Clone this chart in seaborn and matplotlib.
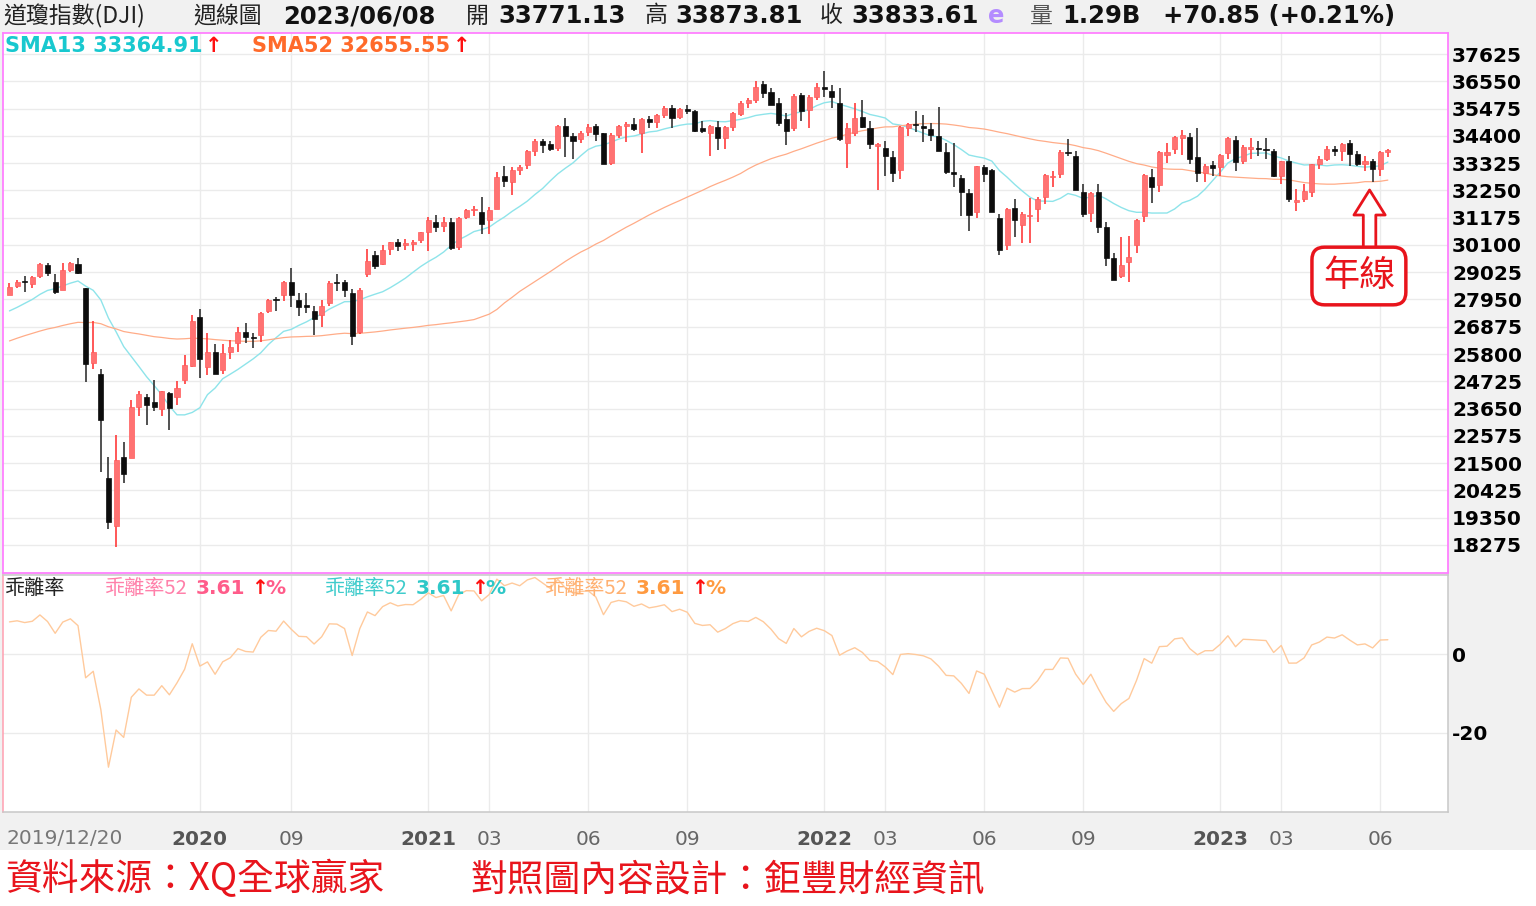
import numpy as np
import pandas as pd
import matplotlib
matplotlib.use("Agg")
import matplotlib.pyplot as plt
import seaborn as sns
from matplotlib.patches import Rectangle

sns.set_style("white")
plt.rcParams["font.family"] = ["DejaVu Sans", "Noto Sans CJK TC"]
CJK = ["Noto Sans CJK TC", "DejaVu Sans"]

# ---------------- data ----------------
# weekly closes before the first visible week (for the moving averages)
prior_closes = [23062, 23433, 23996, 24706, 24737, 25064, 25106, 25883, 26031, 26026,
                25450, 25849, 25502, 25929, 26425, 26412, 26560, 26543, 26505, 25942,
                25764, 25586, 24815, 25984, 26090, 26719, 26600, 26922, 27332, 27154,
                27192, 26485, 26287, 25886, 25629, 26403, 26797, 27220, 26935, 26820,
                26573, 26817, 26770, 26958, 27347, 27681, 28005, 27876, 28051, 28015,
                28135]

# weekly candles 2019/12/20 .. 2023/06/08
opens = [28135, 28491, 28654, 28580, 28878, 29293, 28650, 28319, 29094, 29368,
         28402, 25457, 25014, 20915, 19028, 21727, 21693, 23700, 24110, 23900,
         23645, 24250, 24100, 24780, 25342, 27260, 25300, 25880, 25170, 25880,
         26230, 26680, 26450, 26550, 27490, 27950, 28120, 28640, 27930, 27750,
         27500, 27330, 27810, 28650, 28640, 28200, 26680, 28950, 29700, 29360,
         29940, 30200, 30100, 30130, 30290,
         30610, 31000, 30830, 31000, 30020, 31200, 31460, 31400, 31100, 31530,
         32820, 32600, 33070, 33250, 33800, 34200, 34080, 33920, 34780, 34390,
         34270, 34550, 34780, 34500, 33320, 34430, 34780, 34880, 34500, 35060,
         34940, 35220, 35510, 35160, 35460, 35370, 34700, 34500, 34750, 34300,
         34750, 35250, 35700, 35830, 36440, 36130, 35690, 35060, 34690, 36010,
         35420, 35950,
         36330, 36180, 35690, 34100, 34500, 35140, 34710, 33990, 33920, 33560,
         33050, 34700, 34860, 34800, 34660, 34390, 33770, 32980, 32740, 32150,
         31400, 33170, 33050, 31160, 30100, 31560, 30890, 31250, 31510, 31990,
         32780, 32900, 33750, 33600, 32190, 31360, 32190, 30810, 29580, 28880,
         29430, 30100, 31240, 32780, 32460, 33640, 33880, 34310, 34350, 33570,
         32930, 33250,
         33170, 33720, 34240, 33390, 33900, 33900, 33880, 33800, 32800, 33400,
         31800, 31900, 32200, 33300, 33500, 33900, 33800, 34100, 33700, 33300,
         33400, 33100, 33771]
highs = [28608, 28701, 28872, 28873, 29374, 29373, 28960, 29408, 29416, 29568,
         28402, 27102, 25200, 21740, 22595, 22327, 24008, 24330, 24242, 24764,
         24330, 24300, 24750, 25759, 27338, 27580, 26611, 26200, 26204, 26367,
         26875, 27042, 26630, 27467, 27952, 28049, 28696, 29199, 28212, 28200,
         27700, 27930, 28680, 28958, 28700, 28350, 28403, 29933, 29850, 30116,
         30218, 30320, 30326, 30310, 30627,
         31193, 31272, 31188, 31160, 31200, 31500, 31640, 32009, 31600, 32960,
         33227, 33170, 33260, 33830, 34256, 34256, 34200, 34811, 35091, 34500,
         34600, 34849, 34849, 34520, 34500, 34840, 34945, 35091, 35100, 35171,
         35248, 35580, 35631, 35510, 35600, 35400, 35000, 34840, 35000, 34800,
         35350, 35765, 35892, 36565, 36572, 36300, 35900, 35300, 36050, 36100,
         36000, 36474,
         36952, 36400, 36300, 34900, 35700, 35810, 35000, 34100, 34200, 33800,
         34800, 34900, 35372, 35220, 34900, 35540, 34100, 34118, 32850, 32300,
         33213, 33250, 33100, 31300, 31560, 31910, 31400, 31950, 32000, 32900,
         33000, 33840, 34281, 33800, 32500, 32200, 32500, 31000, 29800, 30400,
         30450, 31120, 32900, 33090, 33800, 34130, 34400, 34630, 34500, 34712,
         33300, 33400,
         33700, 34342, 34400, 34020, 34334, 34200, 34300, 33900, 33400, 33600,
         32300, 32500, 33300, 33600, 34000, 34000, 34100, 34250, 33800, 33600,
         33500, 33800, 33874]
lows = [28111, 28420, 28262, 28419, 28780, 28859, 28169, 28319, 29050, 28950,
        24681, 25226, 21154, 18917, 18213, 20735, 21693, 23350, 23018, 23574,
        23361, 22790, 23780, 24600, 25300, 24843, 24965, 25000, 25000, 25590,
        25890, 26230, 26040, 26285, 27431, 27512, 27900, 27664, 27300, 27400,
        26537, 26850, 27700, 28300, 28046, 26143, 26600, 28850, 29150, 29300,
        29723, 29850, 29900, 29880, 30166,
        29881, 30613, 30600, 29900, 29900, 31120, 31260, 30548, 30547, 31500,
        32400, 32070, 32870, 33100, 33600, 33720, 33800, 33800, 33560, 33490,
        34100, 34400, 34200, 33271, 33250, 34300, 34150, 34600, 33741, 34700,
        34700, 35100, 34690, 35050, 35250, 34560, 34500, 33613, 33840, 33900,
        34600, 35200, 35500, 35700, 35900, 35600, 34800, 34040, 34600, 35000,
        34700, 35800,
        35950, 35500, 34200, 33150, 34400, 34700, 33900, 32272, 32800, 32600,
        32700, 34400, 34560, 34170, 34200, 33800, 32900, 32400, 31240, 30650,
        31153, 32600, 31390, 29700, 29900, 30410, 30170, 30170, 31000, 31700,
        32400, 32740, 33600, 32283, 31200, 31000, 30570, 29270, 28700, 28800,
        28640, 29800, 31000, 31750, 32200, 33330, 33700, 33640, 33300, 32573,
        32580, 32800,
        32812, 33500, 33000, 33300, 33500, 33600, 33500, 32790, 32500, 31800,
        31430, 31800, 32000, 33100, 33400, 33600, 33400, 33200, 33200, 33000,
        32600, 32800, 33560]
closes = [28455, 28645, 28634, 28823, 29348, 28990, 28256, 29102, 29398, 28992,
          25409, 25864, 23186, 19174, 21637, 21053, 23720, 24242, 23775, 23724,
          24331, 23685, 24465, 25383, 27111, 25606, 25871, 25016, 25827, 26075,
          26672, 26470, 26428, 27433, 27931, 27930, 28654, 28133, 27666, 27657,
          27174, 27683, 28587, 28606, 28336, 26502, 28323, 29480, 29263, 29910,
          30218, 30046, 30179, 30200, 30606,
          31098, 30814, 30997, 29983, 31148, 31458, 31494, 30932, 31496, 32779,
          32628, 33073, 33153, 33801, 34200, 34043, 33875, 34778, 34382, 34208,
          34529, 34756, 34480, 33290, 34433, 34786, 34870, 34688, 35062, 34935,
          35209, 35515, 35120, 35456, 35369, 34608, 34584, 34798, 34326, 34746,
          35295, 35677, 35820, 36328, 36100, 35602, 34899, 34580, 35971, 35365,
          35950, 36338,
          36231, 35912, 34265, 34725, 35089, 34738, 34079, 34059, 33615, 32944,
          34755, 34861, 34818, 34721, 34451, 33811, 32977, 32899, 32197, 31262,
          33213, 32900, 31393, 29888, 31501, 31097, 31338, 31289, 31900, 32845,
          32803, 33761, 33707, 32283, 31318, 32152, 30822, 29590, 28726, 29297,
          29635, 31083, 32862, 32403, 33748, 33746, 34347, 34430, 33476, 32920,
          33204, 33147,
          33631, 34303, 33375, 33978, 33926, 33869, 33827, 32817, 33391, 31910,
          31862, 32238, 33274, 33485, 33886, 33809, 34098, 33674, 33301, 33427,
          33093, 33763, 33834]

tick_pos = [25, 37, 55, 63, 76, 89, 107, 115, 128, 141, 159, 167, 180]
tick_labels = ["2020", "09", "2021", "03", "06", "09", "2022", "03", "06", "09", "2023", "03", "06"]
price_ticks = [18275, 19350, 20425, 21500, 22575, 23650, 24725, 25800, 26875, 27950,
               29025, 30100, 31175, 32250, 33325, 34400, 35475, 36550, 37625]
dev_ticks = [0, -20]

header_items = [(3, "道瓊指數(DJI)", "cjk", "#222222"), (193, "週線圖", "cjk", "#222222"),
                (283, "2023/06/08", "num", "#111111"), (466, "開", "cjk", "#222222"),
                (498, "33771.13", "num", "#111111"), (645, "高", "cjk", "#222222"),
                (675, "33873.81", "num", "#111111"), (820, "收", "cjk", "#222222"),
                (851, "33833.61", "num", "#111111"), (988, "e", "num", "#b48cff"),
                (1030, "量", "cjk", "#555555"), (1062, "1.29B", "num", "#111111"),
                (1163, "+70.85 (+0.21%)", "num", "#111111")]

# ---------------- figure ----------------
W, H = 1536, 906
def fx(x): return x / W
def fy(y): return 1 - y / H

fig = plt.figure(figsize=(W / 100, H / 100), dpi=100)
fig.patch.set_facecolor("#f1f1f1")
fig.add_artist(Rectangle((0, 0), 1, fy(850), transform=fig.transFigure,
                         facecolor="white", edgecolor="none", zorder=0))

ax1 = fig.add_axes([fx(3), fy(573), fx(1448) - fx(3), fy(33) - fy(573)])
ax2 = fig.add_axes([fx(3), fy(812), fx(1448) - fx(3), fy(575) - fy(812)])

o = np.array(opens, float); h = np.array(highs, float)
l = np.array(lows, float); c = np.array(closes, float)
n = len(c)
x = np.arange(n)
up = c >= o

allc = pd.Series(list(prior_closes) + list(closes), dtype=float)
sma13 = allc.rolling(13).mean().iloc[len(prior_closes):].to_numpy()
sma52 = allc.rolling(52).mean().iloc[len(prior_closes):].to_numpy()
dev = (c - sma52) / sma52 * 100

# moving averages (behind candles)
sns.lineplot(x=x, y=sma13, ax=ax1, color="#8ee4ea", lw=1.0, zorder=1)
sns.lineplot(x=x, y=sma52, ax=ax1, color="#ffac88", lw=0.9, zorder=1)

# candles
ax1.vlines(x[up], l[up], h[up], color="#ff3b3b", lw=1.2, zorder=2)
ax1.vlines(x[~up], l[~up], h[~up], color="#333333", lw=1.2, zorder=2)
bot = np.minimum(o, c)
hgt = np.maximum(np.abs(c - o), 45)
ax1.bar(x[up], hgt[up], bottom=bot[up], width=0.66, color="#ff7272",
        edgecolor="#ff5a5a", linewidth=0.5, zorder=3)
ax1.bar(x[~up], hgt[~up], bottom=bot[~up], width=0.66, color="#0d0d0d",
        edgecolor="#0d0d0d", linewidth=0.5, zorder=3)

ax1.set_xlim(-0.85, 188.9)
ax1.set_ylim(17171, 38453)
ax1.yaxis.tick_right()
ax1.set_yticks(price_ticks)
ax1.set_yticklabels([str(v) for v in price_ticks], fontsize=14.5, fontweight="bold", color="black")
ax1.tick_params(axis="y", length=0, pad=3)
ax1.set_xticks(tick_pos)
ax1.tick_params(axis="x", length=0, labelbottom=False)
ax1.grid(True, color="#ebebeb", lw=1)
ax1.set_axisbelow(True)
ax1.set_facecolor("white")
for s in ax1.spines.values():
    s.set_color("#ff80ff"); s.set_linewidth(1.3)
ax1.set_xlabel(""); ax1.set_ylabel("")

# deviation panel
sns.lineplot(x=x, y=dev, ax=ax2, color="#ffca9c", lw=1.0)
ax2.set_xlim(-0.85, 188.9)
ax2.set_ylim(-40, 20)
ax2.yaxis.tick_right()
ax2.set_yticks(dev_ticks)
ax2.set_yticklabels([str(v) for v in dev_ticks], fontsize=14.5, fontweight="bold", color="black")
ax2.tick_params(axis="y", length=0, pad=3)
ax2.set_xticks(tick_pos)
ax2.set_xticklabels(tick_labels, fontsize=14.5, color="#666666")
for lab in ax2.get_xticklabels():
    if len(lab.get_text()) == 4:
        lab.set_fontweight("bold"); lab.set_color("#555555")
ax2.tick_params(axis="x", length=7, color="#b0b0b0", pad=6, direction="out")
ax2.grid(True, color="#ebebeb", lw=1)
ax2.set_axisbelow(True)
ax2.set_facecolor("white")
for s in ax2.spines.values():
    s.set_color("#c8c8c8"); s.set_linewidth(1.1)
ax2.spines["left"].set_color("#ff9fb0")
ax2.set_xlabel(""); ax2.set_ylabel("")

# header
for px, txt, kind, col in header_items:
    if kind == "cjk":
        fig.text(fx(px), fy(16), txt, family=CJK, fontsize=16.5, color=col, va="center", ha="left")
    else:
        fig.text(fx(px), fy(16), txt, fontsize=17.5, fontweight="bold", color=col, va="center", ha="left")

# MA legend
fig.text(fx(5), fy(46), "SMA13 33364.91", fontsize=15, fontweight="bold", color="#18c8cf", va="center")
fig.text(fx(205), fy(46), "\u2191", fontsize=15, fontweight="bold", color="#ff1010", va="center")
fig.text(fx(252), fy(46), "SMA52 32655.55", fontsize=15, fontweight="bold", color="#ff6a2a", va="center")
fig.text(fx(453), fy(46), "\u2191", fontsize=15, fontweight="bold", color="#ff1010", va="center")

# deviation legend
fig.text(fx(5), fy(588), "乖離率", family=CJK, fontsize=14.5, color="#222222", va="center")
for x0, c1, c2 in [(105, "#ff80aa", "#ff5c8a"), (325, "#40cccc", "#2ec8c8"), (545, "#ffb070", "#ff9a40")]:
    fig.text(fx(x0), fy(588), "乖離率52", family=CJK, fontsize=14.5, color=c1, va="center")
    fig.text(fx(x0 + 91), fy(588), "3.61", fontsize=14.5, fontweight="bold", color=c2, va="center")
    fig.text(fx(x0 + 146), fy(588), "\u2191", fontsize=14.5, fontweight="bold", color="#ff1010", va="center")
    fig.text(fx(x0 + 160), fy(588), "%", fontsize=14.5, fontweight="bold", color=c2, va="center")

# first date label
fig.text(fx(7), fy(838), "2019/12/20", fontsize=14.5, color="#777777", va="center", ha="left")

# annotation 年線
ax1.annotate("", xy=(178.6, 32265), xytext=(178.6, 29900),
             arrowprops=dict(arrowstyle="simple,head_length=1.2,head_width=1.5,tail_width=0.6",
                             fc="white", ec="#e8141c", lw=2, mutation_scale=15,
                             shrinkA=0, shrinkB=0), zorder=5)
ax1.text(177.2, 28876, "年線", family=CJK, fontsize=26, color="#e8141c", ha="center", va="center",
         zorder=6, bbox=dict(boxstyle="round,pad=0.3,rounding_size=0.35", fc="white",
                             ec="#e8141c", lw=2.5))

# footer
fig.text(fx(5), fy(880), "資料來源：XQ全球贏家", family=CJK, fontsize=26.5, color="#e8141c", va="center")
fig.text(fx(470), fy(880), "對照圖內容設計：鉅豐財經資訊", family=CJK, fontsize=26.5, color="#e8141c", va="center")

fig.savefig("out.png", dpi=100, facecolor=fig.get_facecolor())
